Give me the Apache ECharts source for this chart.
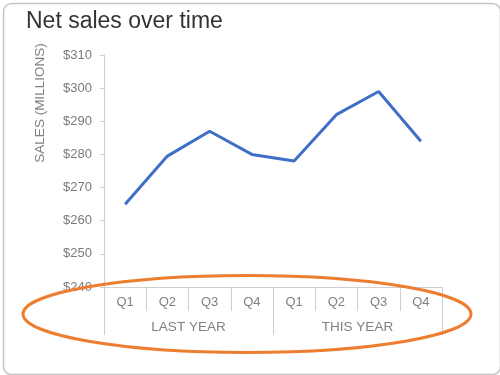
<!DOCTYPE html>
<html>
<head>
<meta charset="utf-8">
<script src="https://cdn.jsdelivr.net/npm/echarts@6/dist/echarts.min.js"></script>
<style>
html,body{margin:0;padding:0;background:#fff;}
#c{width:500px;height:375px;}
</style>
</head>
<body>
<div id="c"></div>
<script>
var quarters = ['Q1','Q2','Q3','Q4','Q1','Q2','Q3','Q4'];
var years = ['LAST YEAR','THIS YEAR'];
var sales = [265, 279.5, 287, 280, 278, 292, 299, 284];
var yTicks = [240, 310, 10]; // min, max, interval

var chart = echarts.init(document.getElementById('c'), null, {renderer:'canvas'});
var font = '"Liberation Sans", Arial, sans-serif';
chart.setOption({
  animation: false,
  backgroundColor: '#fff',
  title: {
    text: 'Net sales over time',
    left: 21, top: 5,
    textStyle: {fontFamily: font, fontSize: 23, fontWeight: 'normal', color: '#333'}
  },
  grid: {left: 104, right: 58, top: 55, bottom: 88},
  xAxis: [{
    type: 'category', data: quarters, position: 'bottom',
    axisLine: {show: true, lineStyle: {color: '#cfcfcf', width: 1}},
    axisTick: {show: true, length: 24, lineStyle: {color: '#cfcfcf'}},
    axisLabel: {margin: 9, color: '#808080', fontFamily: font, fontSize: 13}
  }, {
    type: 'category', data: years, position: 'bottom',
    axisLine: {show: false},
    axisTick: {show: true, length: 48, lineStyle: {color: '#cfcfcf'}},
    axisLabel: {margin: 33, color: '#808080', fontFamily: font, fontSize: 13.5}
  }],
  yAxis: {
    type: 'value', min: yTicks[0], max: yTicks[1], interval: yTicks[2],
    axisLine: {show: true, lineStyle: {color: '#cfcfcf'}},
    axisTick: {show: true, length: 4, lineStyle: {color: '#cfcfcf'}},
    splitLine: {show: false},
    axisLabel: {margin: 12, color: '#7a7a7a', fontFamily: font, fontSize: 13,
      formatter: function(v){ return '$' + v; }}
  },
  series: [{
    type: 'line', data: sales, xAxisIndex: 0,
    showSymbol: false, symbol: 'none',
    lineStyle: {color: '#3F6FC6', width: 3}
  }],
  graphic: [{
    type: 'rect', left: 1, top: 1,
    shape: {width: 497, height: 371, r: 8},
    style: {fill: 'none', stroke: '#c4c4c4', lineWidth: 1.5},
    silent: true
  }, {
    type: 'text', x: 40, y: 103, rotation: Math.PI/2,
    style: {text: 'SALES (MILLIONS)', fill: '#808080', font: '13.5px ' + font,
      textAlign: 'center', textVerticalAlign: 'middle'},
    silent: true
  }, {
    type: 'ellipse',
    shape: {cx: 247, cy: 314, rx: 224, ry: 38.5},
    style: {fill: 'none', stroke: '#ED7D31', lineWidth: 3},
    z: 100, silent: true
  }]
});
</script>
</body>
</html>
